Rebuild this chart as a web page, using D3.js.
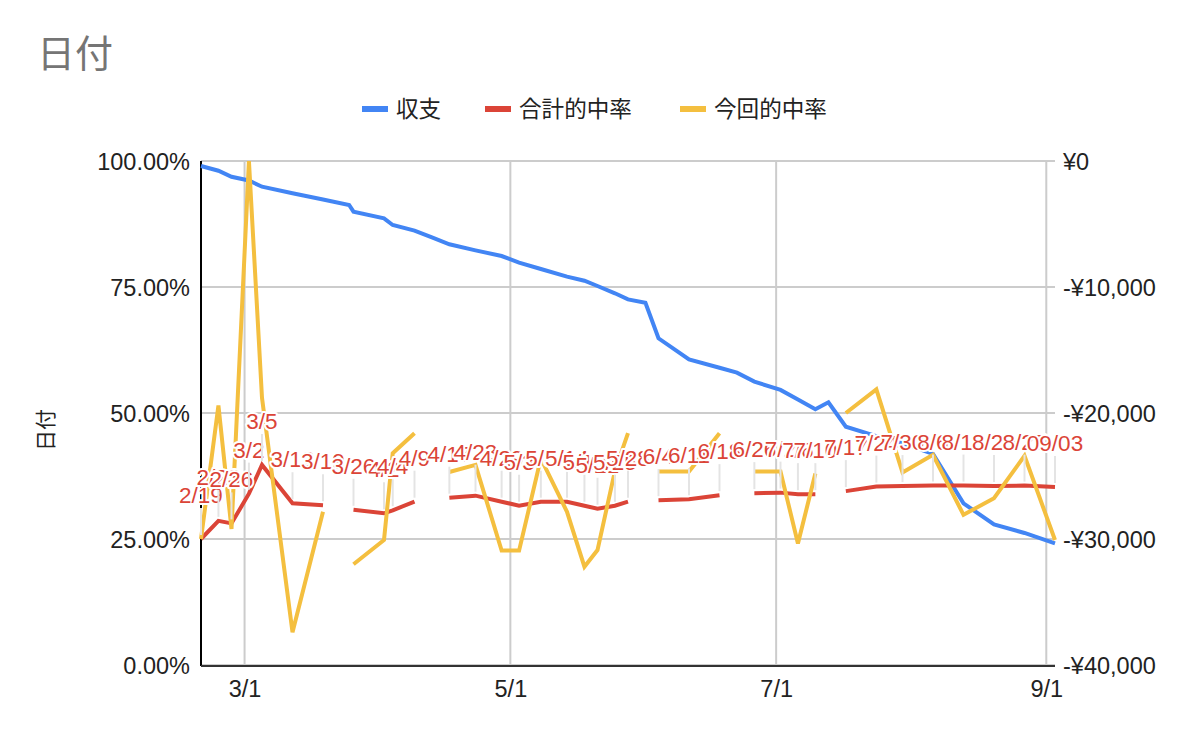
<!DOCTYPE html>
<html><head><meta charset="utf-8">
<script src="https://cdn.jsdelivr.net/npm/d3@7"></script>
<style>
body{margin:0;background:#fff}
text{font-family:Arial,"Liberation Sans","Noto Sans CJK JP",sans-serif}
</style>
</head><body><svg id="c" width="1198" height="738"></svg>
<script>
const dates = ["2023-02-19","2023-02-23","2023-02-26","2023-03-02","2023-03-05","2023-03-12","2023-03-19","2023-03-25","2023-03-26","2023-04-02","2023-04-04","2023-04-09","2023-04-13","2023-04-17","2023-04-23","2023-04-29","2023-05-03","2023-05-08","2023-05-14","2023-05-18","2023-05-21","2023-05-25","2023-05-28","2023-06-01","2023-06-04","2023-06-11","2023-06-18","2023-06-22","2023-06-26","2023-07-02","2023-07-06","2023-07-10","2023-07-13","2023-07-17","2023-07-24","2023-07-30","2023-08-06","2023-08-13","2023-08-20","2023-08-27","2023-09-03"];
const balance = [-400,-770,-1250,-1550,-2040,-2560,-3060,-3490,-4020,-4550,-5080,-5530,-6070,-6610,-7090,-7540,-8060,-8570,-9180,-9500,-9920,-10500,-10980,-11250,-14070,-15740,-16410,-16800,-17510,-18170,-18930,-19700,-19150,-21090,-21830,-22400,-23250,-27170,-28840,-29520,-30340];
const totalRate = [25.0,28.6,28.1,34.0,39.7,32.1,31.7,null,30.8,30.1,30.7,32.4,null,33.2,33.6,32.4,31.6,32.4,32.4,31.6,31.0,31.6,32.4,null,32.7,32.9,33.7,null,34.1,34.2,33.9,33.9,null,34.5,35.4,35.5,35.6,35.6,35.5,35.6,35.3];
const currentRate = [25.0,51.5,27.0,100,53,6.5,30.4,null,20,24.8,42,46,null,38.3,39.7,22.7,22.7,41,30.4,19.5,22.8,38.5,46,null,38.4,38.4,46,null,38.4,38.4,24.1,38,null,50,54.7,38.2,41.7,29.8,33.1,41.5,24.8];
const pointLabels = ["2/19","2/23","2/26","3/2","3/5","3/12","3/19","","3/26","4/2","4/4","4/9","","4/17","4/23","4/29","5/3","5/8","5/14","5/18","5/21","5/25","5/28","","6/4","6/11","6/18","","6/26","7/2","7/6","7/10","","7/17","7/24","7/30","8/6","8/13","8/20","8/27","09/03"];
const leftTicks = [0,25,50,75,100];
const rightTicks = [-40000,-30000,-20000,-10000,0];
const xTickDates = ["2023-03-01","2023-05-01","2023-07-01","2023-09-01"];
const xTickLabels = ["3/1","5/1","7/1","9/1"];
const seriesNames = ["収支","合計的中率","今回的中率"];
const seriesColors = ["#4285f4","#db4437","#f4bf3f"];
const titleText = "日付";
const yAxisTitle = "日付";

const parse = d3.timeParse("%Y-%m-%d");
const rows = dates.map((d,i)=>({date:parse(d), bal:balance[i], tot:totalRate[i], cur:currentRate[i], lab:pointLabels[i]}));

const svg = d3.select("#c");
const L=201, R=1055, T=161, B=665;
const x = d3.scaleTime().domain([parse(dates[0]), parse(dates[dates.length-1])]).range([L,R]);
const yL = d3.scaleLinear().domain([0,100]).range([B,T]);
const yR = d3.scaleLinear().domain([-40000,0]).range([B,T]);

// title
svg.append("text").attr("x",37).attr("y",67).attr("font-size",38).attr("fill","#757575").text(titleText);

// legend
const leg = svg.append("g");
const legX = [362,485,680];
seriesNames.forEach((n,i)=>{
  leg.append("line").attr("x1",legX[i]).attr("x2",legX[i]+26).attr("y1",109).attr("y2",109)
    .attr("stroke",seriesColors[i]).attr("stroke-width",6);
  leg.append("text").attr("x",legX[i]+34).attr("y",117).attr("font-size",22.6).attr("fill","#222").text(n);
});

// gridlines
const grid = svg.append("g");
grid.selectAll("line.h").data(leftTicks).join("line")
  .attr("x1",L).attr("x2",R).attr("y1",d=>yL(d)).attr("y2",d=>yL(d))
  .attr("stroke","#cccccc").attr("stroke-width",2);
grid.selectAll("line.v").data(xTickDates).join("line")
  .attr("x1",d=>x(parse(d))).attr("x2",d=>x(parse(d))).attr("y1",T).attr("y2",B)
  .attr("stroke","#cccccc").attr("stroke-width",2);

// axes
const axL = d3.axisLeft(yL).tickValues(leftTicks).tickFormat(d=>d3.format(".2f")(d)+"%").tickSize(0).tickPadding(11);
const gL = svg.append("g").attr("transform",`translate(${L},0)`).call(axL);
gL.select(".domain").remove();
gL.selectAll("text").attr("font-size",23.5).attr("fill","#222").attr("font-family","Arial,'Liberation Sans',sans-serif").attr("dy","0.36em");

const axR = d3.axisRight(yR).tickValues(rightTicks).tickFormat(d=> d===0 ? "¥0" : "-¥"+d3.format(",")(-d)).tickSize(0).tickPadding(8);
const gR = svg.append("g").attr("transform",`translate(${R},0)`).call(axR);
gR.select(".domain").remove();
gR.selectAll("text").attr("font-size",23.5).attr("fill","#222").attr("font-family","Arial,'Liberation Sans',sans-serif").attr("dy","0.36em");

const axB = d3.axisBottom(x).tickValues(xTickDates.map(parse)).tickFormat((d,i)=>xTickLabels[i]).tickSize(0).tickPadding(15);
const gB = svg.append("g").attr("transform",`translate(0,${B})`).call(axB);
gB.select(".domain").remove();
gB.selectAll("text").attr("font-size",23.5).attr("fill","#222").attr("font-family","Arial,'Liberation Sans',sans-serif");

svg.append("line").attr("x1",L).attr("x2",L).attr("y1",T).attr("y2",B+1).attr("stroke","#000").attr("stroke-width",2);
svg.append("line").attr("x1",L).attr("x2",R).attr("y1",B+1).attr("y2",B+1).attr("stroke","#333").attr("stroke-width",2);

// y title
svg.append("text").attr("transform","translate(53,430) rotate(-90)").attr("text-anchor","middle")
  .attr("font-size",21).attr("fill","#222").text(yAxisTitle);

// lines
const mk = (acc, sc) => d3.line().defined(d=>acc(d)!=null).x(d=>x(d.date)).y(d=>sc(acc(d)));
svg.append("path").datum(rows).attr("d",mk(d=>d.bal,yR)).attr("fill","none").attr("stroke",seriesColors[0]).attr("stroke-width",4);
svg.append("path").datum(rows).attr("d",mk(d=>d.tot,yL)).attr("fill","none").attr("stroke",seriesColors[1]).attr("stroke-width",4);
svg.append("path").datum(rows).attr("d",mk(d=>d.cur,yL)).attr("fill","none").attr("stroke",seriesColors[2]).attr("stroke-width",4);

// annotations
const ann = svg.append("g");
rows.filter(d=>d.tot!=null).forEach(d=>{
  const px = x(d.date), py = yL(d.tot);
  const g = ann.append("g");
  g.append("line").attr("x1",px).attr("x2",px).attr("y1",py-4).attr("y2",py-31).attr("stroke","#e4e4e4").attr("stroke-width",2);
  g.append("text").attr("x",px).attr("y",py-36).attr("text-anchor","middle").attr("font-size",22.5)
    .attr("font-family","Roboto,Arial,sans-serif")
    .attr("fill","#db4437").attr("stroke","#fff").attr("stroke-width",4).attr("paint-order","stroke")
    .attr("stroke-linejoin","round").text(d.lab);
});
</script></body></html>
